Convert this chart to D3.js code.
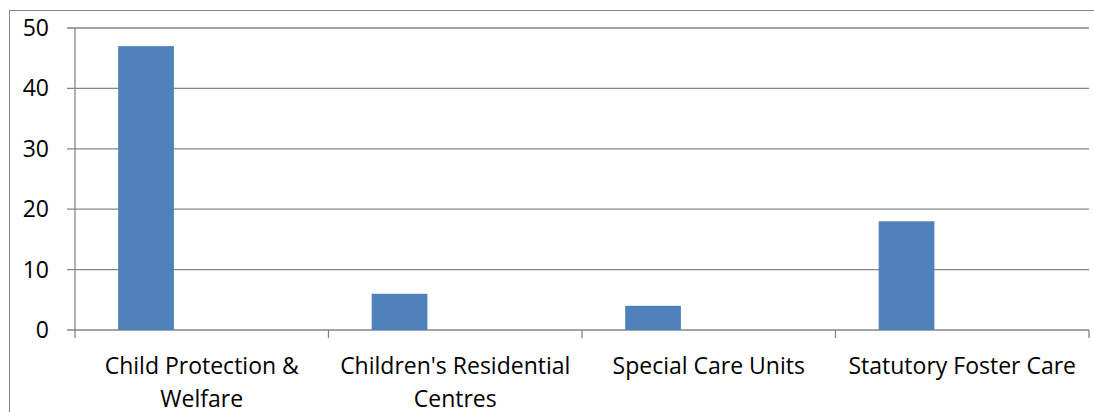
<!DOCTYPE html>
<html>
<head>
<meta charset="utf-8">
<script src="https://cdn.jsdelivr.net/npm/d3@7"></script>
<style>
  body { margin: 0; background: #fff; }
  text { font-family: "Open Sans", sans-serif; font-size: 23px; fill: #000; }
</style>
</head>
<body>
<div id="chart"></div>
<script>
// categories and values
var categories = ["Child Protection & Welfare", "Children's Residential Centres", "Special Care Units", "Statutory Foster Care"];
var values = [47, 6, 4, 18];
var yTicks = [0, 10, 20, 30, 40, 50];
// three bar slots per category, only the first one is filled
var slots = ["s1", "s2", "s3"];

var width = 1094, height = 412;
var plotLeft = 75, plotRight = 1089, plotTop = 28, plotBottom = 330;

var svg = d3.select("#chart")
  .append("svg")
  .attr("width", width)
  .attr("height", height);

// outer chart frame
svg.append("rect")
  .attr("x", 9.5)
  .attr("y", 10.5)
  .attr("width", 1200)
  .attr("height", 500)
  .attr("fill", "none")
  .attr("stroke", "#868686")
  .attr("stroke-width", 1);

var x = d3.scaleBand().domain(categories).range([plotLeft, plotRight]).padding(0);
var xs = d3.scaleBand().domain(slots).range([0, x.bandwidth()]).paddingInner(0).paddingOuter(0.775);
var y = d3.scaleLinear().domain([0, 50]).range([plotBottom, plotTop]);

// gridlines
svg.append("g")
  .selectAll("line")
  .data(yTicks)
  .join("line")
  .attr("x1", plotLeft - 8)
  .attr("x2", plotRight)
  .attr("y1", function(d) { return y(d); })
  .attr("y2", function(d) { return y(d); })
  .attr("stroke", "#868686")
  .attr("stroke-width", 1.3);

// y axis line
svg.append("line")
  .attr("x1", plotLeft).attr("x2", plotLeft)
  .attr("y1", y(50)).attr("y2", plotBottom + 8)
  .attr("stroke", "#868686")
  .attr("stroke-width", 1.3);

// category tick marks
var bounds = categories.map(function(c) { return x(c); }).concat([plotRight]);
svg.append("g")
  .selectAll("line")
  .data(bounds.slice(1))
  .join("line")
  .attr("x1", function(d) { return d; })
  .attr("x2", function(d) { return d; })
  .attr("y1", plotBottom)
  .attr("y2", plotBottom + 8)
  .attr("stroke", "#868686")
  .attr("stroke-width", 1.3);

// y tick labels
svg.append("g")
  .selectAll("text")
  .data(yTicks)
  .join("text")
  .attr("x", 49)
  .attr("y", function(d) { return y(d); })
  .attr("dy", "0.35em")
  .attr("text-anchor", "end")
  .text(function(d) { return d; });

// bars
svg.append("g")
  .selectAll("rect")
  .data(values)
  .join("rect")
  .attr("x", function(d, i) { return x(categories[i]) + xs("s1"); })
  .attr("width", xs.bandwidth())
  .attr("y", function(d) { return y(d); })
  .attr("height", function(d) { return plotBottom - y(d); })
  .attr("fill", "#4F81BD");

// category labels, wrapped to the band width
var labels = svg.append("g")
  .selectAll("text")
  .data(categories)
  .join("text")
  .attr("text-anchor", "middle")
  .attr("x", function(d) { return x(d) + x.bandwidth() / 2; })
  .attr("y", 374);

labels.each(function(d) {
  var t = d3.select(this);
  var words = d.split(" ");
  var lines = [];
  var line = [];
  var tspan = t.append("tspan");
  words.forEach(function(w) {
    line.push(w);
    tspan.text(line.join(" "));
    if (tspan.node().getComputedTextLength() > x.bandwidth() - 14 && line.length > 1) {
      line.pop();
      lines.push(line.join(" "));
      line = [w];
    }
  });
  lines.push(line.join(" "));
  tspan.remove();
  lines.forEach(function(l, i) {
    t.append("tspan")
      .attr("x", x(d) + x.bandwidth() / 2)
      .attr("dy", i === 0 ? 0 : 33)
      .text(l);
  });
});
</script>
</body>
</html>
